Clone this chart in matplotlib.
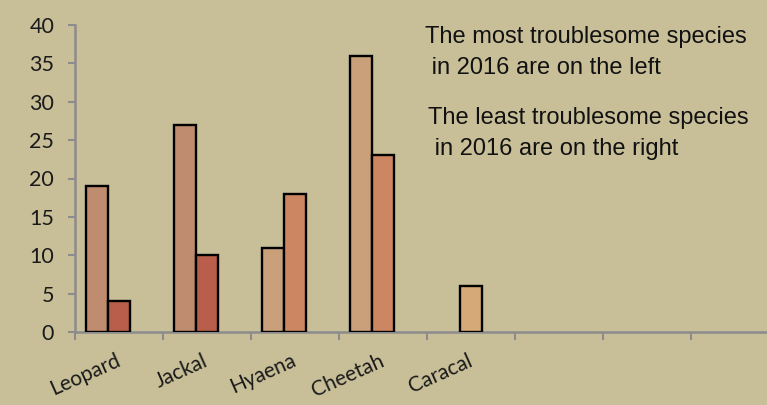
import matplotlib
matplotlib.use("Agg")
import matplotlib.pyplot as plt
import numpy as np

categories = ["Leopard", "Jackal", "Hyaena", "Cheetah", "Caracal", "", "", ""]
series1 = [19, 27, 11, 36, 0, 0, 0, 0]
series2 = [4, 10, 18, 23, 6, 0, 0, 0]
series3 = [0, 0, 0, 0, 0, 0, 0, 0]
colors1 = ["#c08c70", "#c08c70", "#c9a07a", "#c9a07a", "#d5aa78", "#d5aa78", "#d5aa78", "#d5aa78"]
colors2 = ["#b85e4a", "#b85e4a", "#cc8662", "#cc8662", "#d5aa78", "#d5aa78", "#d5aa78", "#d5aa78"]
yticks = [0, 5, 10, 15, 20, 25, 30, 35, 40]
note1 = "The most troublesome species\n in 2016 are on the left"
note2 = "The least troublesome species\n in 2016 are on the right"

BG = "#c8bf98"
W, H = 767, 405
fig = plt.figure(figsize=(W / 100, H / 100), dpi=100)
fig.patch.set_facecolor(BG)
ax = fig.add_axes([75 / W, (H - 332) / H, 704 / W, (332 - 25) / H])
ax.set_facecolor(BG)

x = np.arange(len(categories))
bw = 0.25
for xi, v, c in zip(x, series1, colors1):
    if v > 0:
        ax.bar(xi - bw, v, width=bw, color=c, edgecolor="black", linewidth=1.7, zorder=3)
for xi, v, c in zip(x, series2, colors2):
    if v > 0:
        ax.bar(xi, v, width=bw, color=c, edgecolor="black", linewidth=1.7, zorder=3)
for xi, v in zip(x, series3):
    if v > 0:
        ax.bar(xi + bw, v, width=bw, color="#d5aa78", edgecolor="black", linewidth=1.7, zorder=3)

ax.set_xlim(-0.5, len(categories) - 0.5)
ax.set_ylim(0, 40)
ax.set_yticks(yticks)
ax.set_yticklabels([str(t) for t in yticks], fontsize=15.5, family="Lato", color="#1a1a1a")

ax.set_xticks(np.arange(-0.5, len(categories), 1.0))
ax.set_xticklabels([])
ax.set_xticks(x, minor=True)
ax.set_xticklabels(categories, minor=True, rotation=24, rotation_mode="anchor",
                   ha="right", va="center", fontsize=15, family="Lato", color="#1a1a1a")
ax.tick_params(axis="x", which="major", length=6, width=1.5, color="#8c8c8c", direction="out")
ax.tick_params(axis="x", which="minor", length=0, pad=20)
ax.tick_params(axis="y", length=5, width=1.5, color="#8c8c8c", pad=10)

for s in ["top", "right"]:
    ax.spines[s].set_visible(False)
for s in ["left", "bottom"]:
    ax.spines[s].set_color("#8c8c8c")
    ax.spines[s].set_linewidth(1.8)

fig.text(425 / W, 1 - 26 / H, note1, ha="left", va="top", fontsize=17,
         family="Liberation Sans", color="#111111", linespacing=1.5)
fig.text(428 / W, 1 - 107 / H, note2, ha="left", va="top", fontsize=17,
         family="Liberation Sans", color="#111111", linespacing=1.5)

fig.savefig("out.png", dpi=100, facecolor=BG)
